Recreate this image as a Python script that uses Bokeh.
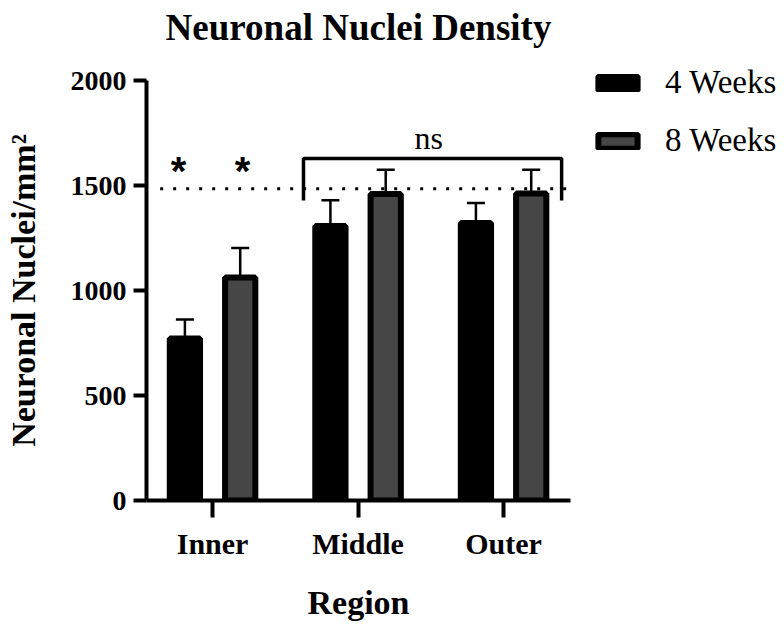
import numpy as np
from bokeh.plotting import figure
from bokeh.models import (Range1d, FixedTicker, ColumnDataSource, Whisker, TeeHead,
                          Legend, LegendItem, Label, Title)
from bokeh.embed import file_html
from bokeh.resources import INLINE
from bokeh.core.properties import value

# ---- data ----
regions = ["Inner", "Middle", "Outer"]
series = ["4 Weeks", "8 Weeks"]
mean_4wk = [772, 1307, 1322]
sem_4wk = [90, 123, 95]
mean_8wk = [1062, 1459, 1462]
sem_8wk = [140, 116, 113]
reference_level = 1485
y_ticks = [0, 500, 1000, 1500, 2000]
sig_marks = ["*", "*"]
ns_label = "ns"
title_text = "Neuronal Nuclei Density"

SERIF = "Liberation Serif"

idx = np.arange(len(regions))
offset = 0.19
bar_w = 0.208

src4 = ColumnDataSource(dict(x=idx - offset, top=mean_4wk,
                             lower=mean_4wk,
                             upper=np.array(mean_4wk) + np.array(sem_4wk)))
src8 = ColumnDataSource(dict(x=idx + offset, top=mean_8wk,
                             lower=mean_8wk,
                             upper=np.array(mean_8wk) + np.array(sem_8wk)))

p = figure(frame_width=424, frame_height=420,
           x_range=Range1d(-0.454, 2.46), y_range=Range1d(0, 2000),
           output_backend="svg", toolbar_location=None,
           min_border_left=146, min_border_top=80, min_border_bottom=122,
           min_border_right=10)
p.outline_line_color = None
p.grid.visible = False
p.background_fill_color = "white"

# spacer between frame and title, then the title itself (stacked outward)
p.add_layout(Title(text=" ", text_font_size="2px", standoff=29), "above")
p.add_layout(Title(text=title_text, text_font=SERIF, text_font_size="37px",
                   text_font_style="bold", text_color="black", align="center",
                   standoff=0), "above")

# reference dotted line
p.line(x=[-0.36, 2.44], y=[reference_level, reference_level], line_color="black",
       line_width=3, line_dash="3 10")

r4 = p.vbar(x="x", top="top", bottom=0, width=bar_w, source=src4,
            fill_color="black", line_color="black", line_width=6)
r8 = p.vbar(x="x", top="top", bottom=0, width=bar_w, source=src8,
            fill_color="#464646", line_color="black", line_width=6)

for src in (src4, src8):
    w = Whisker(base="x", lower="lower", upper="upper", source=src,
                line_width=2.5, line_color="black",
                upper_head=TeeHead(size=18, line_width=2.5, line_color="black"),
                lower_head=None)
    p.add_layout(w)

# significance bracket
p.line(x=[0.625, 0.625, 2.399, 2.399], y=[1428, 1628, 1628, 1428],
       line_color="black", line_width=3.5)
p.add_layout(Label(x=1.485, y=1724, text=ns_label, text_align="center",
                   text_baseline="middle", text_font=SERIF, text_font_size="32px",
                   text_color="black"))
p.text(x=[-0.234, 0.206], y=[1570, 1570], text=sig_marks, text_align="center",
       text_baseline="middle", text_font=value("Liberation Sans"),
       text_font_size="40px", text_font_style="bold", text_color="black")

# axes
p.xaxis.ticker = FixedTicker(ticks=list(idx))
p.xaxis.major_label_overrides = {int(i): r for i, r in zip(idx, regions)}
p.yaxis.ticker = FixedTicker(ticks=y_ticks)
for ax in (p.xaxis[0], p.yaxis[0]):
    ax.axis_line_width = 4
    ax.axis_line_color = "black"
    ax.major_tick_line_width = 4
    ax.major_tick_line_color = "black"
    ax.major_tick_in = 0
    ax.minor_tick_line_color = None
    ax.major_label_text_font = SERIF
    ax.major_label_text_font_style = "bold"
    ax.major_label_text_color = "black"
    ax.axis_label_text_font = SERIF
    ax.axis_label_text_font_style = "bold"
    ax.axis_label_text_color = "black"
    ax.axis_label_text_font_size = "34px"

p.xaxis.major_tick_out = 17
p.xaxis.major_label_text_font_size = "30px"
p.xaxis.major_label_standoff = 9
p.xaxis.axis_label = "Region"
p.xaxis.axis_label_standoff = 21

p.yaxis.major_tick_out = 13
p.yaxis.major_label_text_font_size = "28px"
p.yaxis.major_label_standoff = 7
p.yaxis.axis_label = "Neuronal Nuclei/mm²"
p.yaxis.axis_label_standoff = 26

legend = Legend(items=[LegendItem(label=series[0], renderers=[r4]),
                       LegendItem(label=series[1], renderers=[r8])],
                location=(23, 341), orientation="vertical",
                glyph_width=49, glyph_height=18, label_standoff=23,
                label_height=36, spacing=21, padding=0, margin=0,
                border_line_color=None, background_fill_alpha=0,
                label_text_font=SERIF, label_text_font_size="33px",
                label_text_color="black")
p.add_layout(legend, "right")

open("out.html", "w").write(file_html(p, INLINE))
